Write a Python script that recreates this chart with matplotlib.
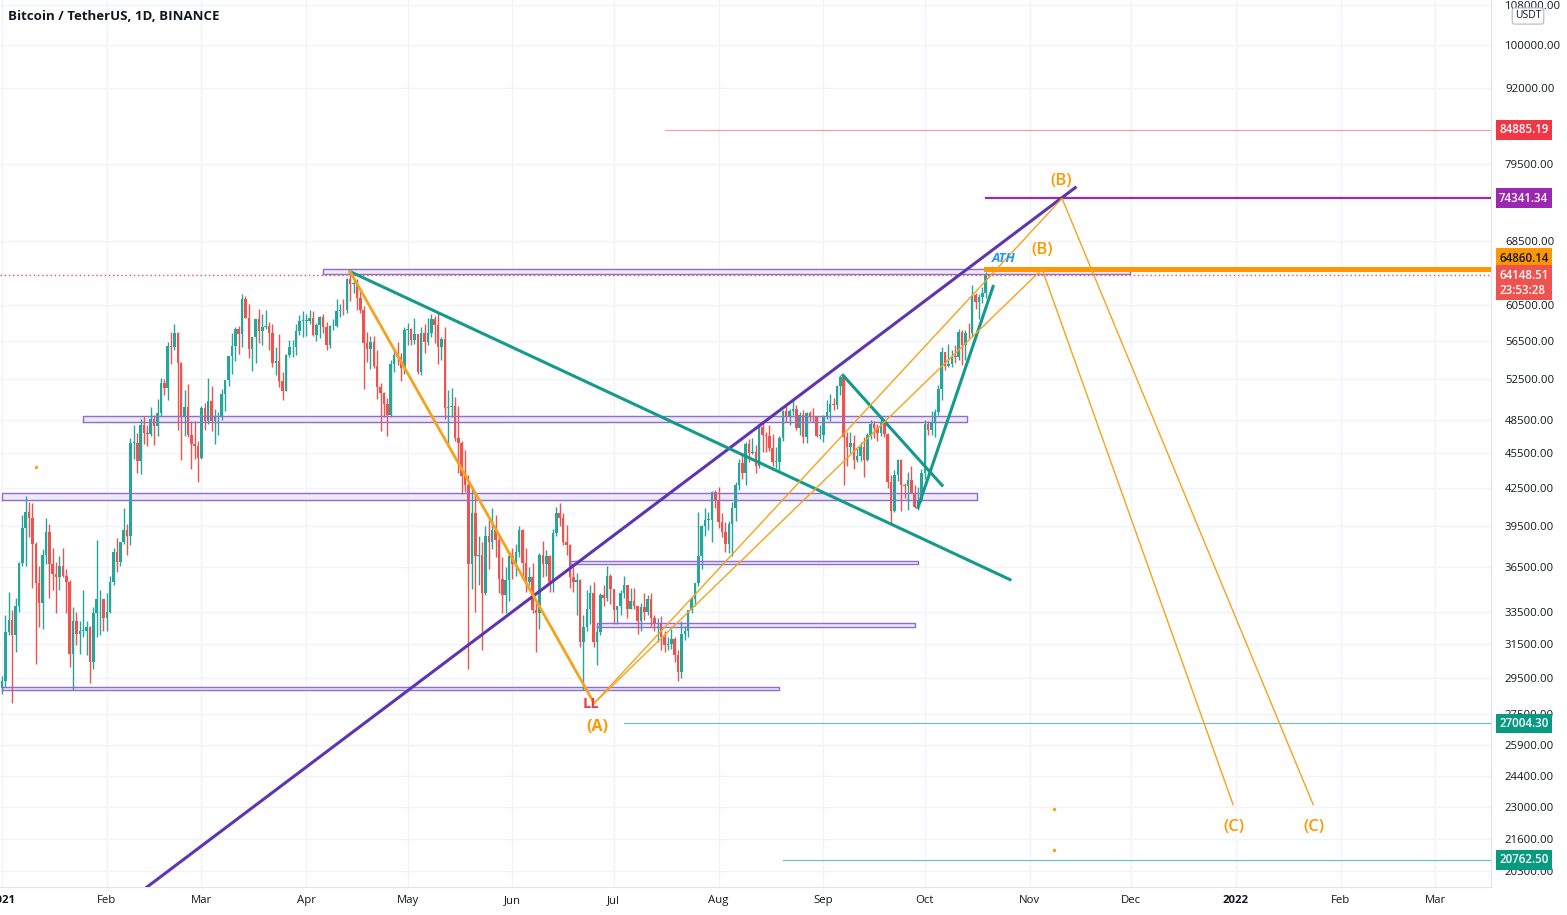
import numpy as np
import matplotlib
matplotlib.use("Agg")
import matplotlib.pyplot as plt
from matplotlib.transforms import blended_transform_factory
from matplotlib.ticker import NullLocator
from datetime import date

plt.rcParams['font.family'] = ['Open Sans', 'DejaVu Sans']

# ---- daily BTC/USDT candles 2021-01-01 .. 2021-10-20, in thousands ----
first_open = 28.9
jan_c = [29.3,32.2,33.0,32.0,33.9,36.8,39.4,40.6,40.1,38.2,35.4,34.1,37.4,39.1,36.7,36.0,35.8,36.6,35.9,35.5,
         30.9,32.9,32.1,32.3,32.3,32.5,30.4,33.4,34.3,34.3,33.1]
jan_h = [29.6,33.3,34.8,33.6,34.4,36.9,40.4,41.9,41.4,41.3,38.3,36.6,37.8,40.1,39.7,37.9,36.9,37.3,37.9,36.4,
         35.6,33.8,33.5,32.9,34.9,32.9,32.6,33.8,38.5,34.9,34.3]
jan_l = [28.6,29.0,32.0,28.1,31.0,33.5,36.6,36.6,38.7,35.1,30.3,32.5,32.4,36.7,34.4,34.9,33.4,34.9,35.8,33.4,
         30.1,28.8,31.4,30.9,31.9,30.8,29.2,30.0,31.9,32.0,32.3]
feb_c = [33.5,35.5,37.6,36.9,38.3,39.2,38.8,46.4,46.4,44.8,48.0,47.3,47.2,48.6,47.9,49.1,52.1,51.6,55.9,55.8,
         57.4,54.1,48.9,49.7,47.1,46.3,46.1,45.1]
feb_h = [34.7,35.9,37.9,38.6,38.3,40.9,39.7,46.8,48.0,47.3,48.6,48.9,48.0,49.7,49.0,50.5,52.6,52.5,56.4,57.5,
         58.4,57.5,54.2,51.4,52.0,48.4,48.4,46.6]
feb_l = [32.3,33.4,35.3,36.2,36.6,38.2,37.4,38.1,45.0,43.8,43.7,46.3,46.1,47.0,46.2,47.0,48.9,50.9,50.4,54.0,
         55.5,47.6,44.9,47.0,46.9,44.1,45.0,43.0]
mar_c = [49.6,48.4,50.3,48.4,48.8,48.9,51.0,52.4,54.9,55.9,57.8,57.2,61.2,59.0,55.6,56.9,58.9,57.6,58.0,58.1,
         57.4,54.1,54.3,52.3,51.3,55.0,55.8,55.8,57.6,58.7,58.7]
mar_h = [49.8,50.1,52.6,51.8,49.5,49.2,51.5,52.4,54.9,57.4,58.0,58.1,61.8,61.6,60.6,56.9,58.9,60.1,59.5,59.9,
         58.6,58.4,55.8,57.2,53.2,55.1,56.6,56.6,58.4,59.4,59.8]
mar_l = [45.0,47.6,48.1,47.5,46.3,47.1,48.5,49.3,51.8,53.0,54.3,55.1,55.8,59.0,54.6,53.3,54.1,56.3,56.0,57.8,
         55.5,53.7,52.9,51.7,50.4,51.3,54.7,54.7,55.0,57.1,56.9]
apr_c = [58.7,59.0,57.1,58.2,59.1,58.0,56.0,58.1,58.1,59.8,60.0,59.9,63.6,63.0,63.2,61.3,60.0,56.2,55.6,56.4,
         53.8,51.7,51.1,50.0,49.0,54.0,55.0,54.8,53.6,57.7]
apr_h = [59.5,60.0,59.8,58.5,59.3,59.5,58.6,58.2,58.9,61.2,60.6,61.2,63.8,64.9,63.8,63.6,62.5,60.4,57.5,57.0,
         57.0,55.5,52.1,51.2,50.6,54.4,55.5,56.4,55.2,58.0]
apr_l = [57.0,58.4,57.0,56.5,56.8,57.4,55.5,55.7,57.7,58.0,59.2,59.4,59.6,61.0,62.0,60.0,59.6,51.5,54.2,53.5,
         53.6,50.5,47.5,48.8,47.0,48.8,53.2,53.9,52.3,53.0]
may_c = [57.8,56.6,57.2,53.2,57.4,56.4,57.3,58.9,58.2,55.8,56.7,49.6,49.7,49.8,46.8,46.4,43.5,42.8,36.7,40.5,
         37.3,37.4,34.7,38.8,38.3,39.2,38.5,35.7,34.6,35.6,37.3]
may_h = [58.5,57.9,59.0,57.2,58.0,58.4,59.0,59.5,59.3,59.6,56.9,58.0,51.4,51.6,50.7,49.8,46.6,45.8,43.6,42.5,
         42.2,38.8,38.3,39.5,40.0,40.9,40.4,38.9,37.2,36.5,37.5]
may_l = [56.0,56.0,56.1,53.0,52.9,55.2,56.0,56.9,56.2,54.0,54.4,48.6,46.0,48.8,46.6,43.8,42.0,42.2,30.0,35.0,
         33.5,35.3,31.1,34.6,36.4,37.8,37.2,34.7,33.4,33.4,34.2]
jun_c = [36.7,37.6,39.2,36.8,35.5,35.8,33.6,33.4,37.4,36.7,37.3,35.5,39.0,40.5,40.1,38.3,38.1,35.8,35.5,35.6,
         31.6,32.5,33.7,34.7,31.6,32.2,34.6,34.4,35.9,35.0]
jun_h = [37.9,38.2,39.5,39.3,37.9,36.5,36.8,34.1,37.5,38.4,37.7,37.4,39.3,41.0,41.3,40.5,39.6,38.2,36.5,36.1,
         35.7,33.3,34.9,35.3,35.5,32.7,34.7,35.3,36.6,36.0]
jun_l = [35.7,35.9,37.2,35.6,34.8,35.3,33.4,31.0,32.4,35.8,35.9,34.8,34.8,38.8,39.5,38.1,37.4,35.1,34.8,33.3,
         31.3,28.8,32.3,32.7,31.3,30.2,32.0,33.9,34.2,34.0]
jul_c = [33.6,33.9,34.7,35.3,33.7,34.2,33.9,32.9,33.8,33.5,34.3,33.1,32.7,32.8,31.9,31.4,31.5,31.8,30.8,29.8,
         32.1,32.3,33.6,34.3,35.4,37.3,39.5,40.0,40.0,42.2,41.5]
jul_h = [35.0,33.9,34.9,35.9,35.3,35.1,35.1,33.9,34.1,34.7,34.6,34.7,33.3,33.1,33.2,32.3,31.9,32.4,31.9,31.1,
         32.9,32.6,33.6,34.5,35.4,40.6,39.6,40.9,40.6,42.3,42.4]
jul_l = [32.7,32.7,33.3,34.4,33.1,33.7,33.7,32.1,32.3,33.0,33.3,32.6,32.3,31.6,31.1,31.0,31.1,31.2,30.4,29.3,
         29.5,31.7,31.9,33.4,33.9,35.2,36.4,38.8,39.2,38.3,40.9]
aug_c = [39.8,39.1,38.2,39.7,40.9,42.8,44.6,43.8,46.3,45.5,45.6,44.4,47.8,47.1,47.0,45.9,44.7,44.7,46.8,49.3,
         48.9,49.3,49.5,47.7,49.0,46.9,49.1,48.9,48.8,47.0,47.1]
aug_h = [42.6,40.5,39.8,39.9,41.4,43.0,45.0,45.3,46.5,46.7,46.8,46.2,48.1,48.2,47.4,48.0,47.2,46.0,47.0,49.4,
         49.8,49.5,50.5,49.9,49.2,49.4,49.2,49.3,49.6,48.9,48.0]
aug_l = [39.4,38.7,37.6,37.5,37.3,39.9,42.4,43.3,42.8,44.7,45.4,43.8,44.2,45.6,45.6,45.7,44.4,44.2,43.9,46.6,
         48.3,48.0,49.0,47.6,47.1,46.4,46.4,48.4,48.3,46.9,46.7]
sep_c = [48.8,49.2,50.0,49.9,51.8,52.7,46.9,46.0,46.4,44.9,45.2,46.0,44.9,47.1,48.1,47.7,47.3,48.3,47.2,43.0,
         40.7,43.6,44.9,42.8,42.7,43.2,42.1,41.0,41.5,43.8]
sep_h = [49.0,50.4,51.0,50.6,51.9,52.9,52.9,47.4,47.4,47.1,46.0,46.5,46.9,47.3,48.5,48.4,48.1,48.8,48.4,47.3,
         43.6,44.0,45.0,45.0,42.9,43.9,44.4,42.8,42.6,44.1]
sep_l = [46.5,48.6,48.4,49.4,49.5,50.9,42.8,44.4,45.5,44.1,44.7,44.8,43.4,44.8,46.7,46.8,46.6,47.0,46.9,42.5,
         39.6,40.6,43.1,40.7,41.7,40.8,42.1,40.9,40.8,41.4]
oct_c = [48.1,47.6,48.2,49.2,51.5,55.3,53.8,54.0,54.9,54.7,57.5,56.0,57.4,57.3,61.7,60.9,61.5,62.0,64.3,64.15]
oct_h = [48.5,48.4,49.3,49.5,51.9,55.8,55.3,56.1,55.5,56.0,57.8,57.7,57.7,58.5,62.9,62.0,61.8,62.7,64.5,64.3]
oct_l = [43.3,47.1,47.1,46.9,49.0,50.4,53.4,53.7,53.7,54.1,54.4,53.9,54.4,56.8,56.9,60.1,58.9,60.8,61.3,63.9]

# ---- drawn levels (price) and their start day ----
current_price = 64148.51
timer_text = "23:53:28"
level_red, level_red_start = 84885.19, 196
level_purple, level_purple_start = 74341.34, 291
level_ath, level_ath_start = 64860.14, 291
level_t1, level_t1_start = 27004.30, 184
level_t2, level_t2_start = 20762.50, 231

# zones: (day_start, day_end, price_low, price_high)
zones = [(95, 333.7, 64300, 64850), (24, 285.5, 48280, 48850), (0, 288.5, 41530, 42080),
         (168, 271, 36700, 36910), (176, 270, 32550, 32800), (0, 230, 28780, 29000)]

# trend lines: ((day, price), (day, price))
purple_trend = ((42.9, 19700), (317.5, 75900))
teal_lines = [((103, 64550), (298.2, 35640)), ((248.8, 52850), (278.1, 42750)),
              ((271.0, 40970), (293.2, 62730))]
wave_a_line = ((103, 64550), (175.1, 28100))
wave_a = (175.3, 28100)
wave_b1 = (313.6, 74341.34)
wave_b2 = (307.7, 64860.14)
wave_c1 = (387.9, 23090)
wave_c2 = (364.2, 23090)

yticks = [108000, 100000, 92000, 79500, 68500, 60500, 56500, 52500, 48500, 45500, 42500,
          39500, 36500, 33500, 31500, 29500, 27500, 25900, 24400, 23000, 21600, 20300]
month_labels = ["2021", "Feb", "Mar", "Apr", "May", "Jun", "Jul", "Aug", "Sep", "Oct",
                "Nov", "Dec", "2022", "Feb", "Mar"]
month_dates = [date(2021, m, 1) for m in range(1, 13)] + [date(2022, m, 1) for m in (1, 2, 3)]

UP, DOWN = '#26a69a', '#ef5350'
ORANGE = '#ff9800'
TEAL = '#139a8a'

closes = np.array(jan_c + feb_c + mar_c + apr_c + may_c + jun_c + jul_c + aug_c + sep_c + oct_c) * 1000
highs = np.array(jan_h + feb_h + mar_h + apr_h + may_h + jun_h + jul_h + aug_h + sep_h + oct_h) * 1000
lows = np.array(jan_l + feb_l + mar_l + apr_l + may_l + jun_l + jul_l + aug_l + sep_l + oct_l) * 1000
opens = np.r_[first_open * 1000, closes[:-1]]
days = np.arange(len(closes))
highs = np.maximum(highs, np.maximum(opens, closes))
lows = np.minimum(lows, np.minimum(opens, closes))

fig = plt.figure(figsize=(15.67, 9.15), dpi=100)
ax = fig.add_axes([0, 28 / 915, 1491 / 1567, 887 / 915])
ax.set_yscale('log')
ax.set_xlim(-0.6, 440.5)
ax.set_ylim(19700, 109000)

# grid
for d in month_dates:
    ax.axvline((d - date(2021, 1, 1)).days, color='#f0f3fa', lw=1, zorder=0)
for t in yticks:
    ax.axhline(t, color='#f0f3fa', lw=1, zorder=0)

# candles
up = closes >= opens
cols = np.where(up, UP, DOWN)
ax.vlines(days, lows, highs, colors=cols, lw=1.0, zorder=3)
lo_b = np.minimum(opens, closes)
hi_b = np.maximum(opens, closes)
ax.bar(days, np.maximum(hi_b - lo_b, 60), bottom=lo_b, width=0.75, color=cols, lw=0, zorder=4)

# zones
for d0, d1, p0, p1 in zones:
    ax.fill_between([d0, d1], p0, p1, color='#ede7f6', alpha=0.9, zorder=2)
    ax.plot([d0, d1, d1, d0, d0], [p0, p0, p1, p1, p0], color='#8e6fd0', lw=1.0, zorder=5)

# horizontal levels
ax.axhline(current_price, color=DOWN, lw=1, ls=(0, (1, 2)), zorder=5)
ax.plot([level_red_start, 441], [level_red] * 2, color='#f7525f', lw=0.8, alpha=0.6, zorder=5)
ax.plot([level_purple_start, 441], [level_purple] * 2, color='#9c27b0', lw=1.6, zorder=6)
ax.plot([level_ath_start, 441], [level_ath] * 2, color=ORANGE, lw=3.6, zorder=6)
ax.plot([level_t1_start, 441], [level_t1] * 2, color='#26a69a', lw=0.8, alpha=0.7, zorder=5)
ax.plot([level_t2_start, 441], [level_t2] * 2, color='#26a69a', lw=0.8, alpha=0.7, zorder=5)

# trend lines
(x0, y0), (x1, y1) = purple_trend
ax.plot([x0, x1], [y0, y1], color='#5e35b1', lw=2.2, zorder=6)
for (a, b), (c, e) in teal_lines:
    ax.plot([a, c], [b, e], color=TEAL, lw=2.2, zorder=6)
(x0, y0), (x1, y1) = wave_a_line
ax.plot([x0, x1], [y0, y1], color='#f7a21b', lw=2.0, zorder=6)
for b, c in ((wave_b1, wave_c1), (wave_b2, wave_c2)):
    ax.plot([wave_a[0], b[0], c[0]], [wave_a[1], b[1], c[1]], color='#f7a21b', lw=1.0, zorder=6)

# labels on chart
ax.text(313.3, 76900, "(B)", color=ORANGE, fontsize=12, fontweight='semibold', ha='center', va='center', zorder=8)
ax.text(307.7, 67320, "(B)", color=ORANGE, fontsize=12, fontweight='semibold', ha='center', va='center', zorder=8)
ax.text(296.4, 66200, "ATH", color='#2196f3', fontsize=9.5, fontweight='bold', fontstyle='italic',
        ha='center', va='center', zorder=8)
ax.text(174.3, 28040, "LL", color='#f23645', fontsize=10.5, fontweight='bold', ha='center', va='center', zorder=8)
ax.text(176.0, 26840, "(A)", color=ORANGE, fontsize=11.5, fontweight='bold', ha='center', va='center', zorder=8)
ax.text(364.5, 22100, "(C)", color=ORANGE, fontsize=12, fontweight='semibold', ha='center', va='center', zorder=8)
ax.text(388.2, 22100, "(C)", color=ORANGE, fontsize=12, fontweight='semibold', ha='center', va='center', zorder=8)
ax.plot([10, 311.2, 311.2], [44250, 22880, 21140], ls='none', marker='o', ms=1.5, color='#f7a21b', zorder=8)

# axes styling
for s in ('top', 'left'):
    ax.spines[s].set_visible(False)
for s in ('right', 'bottom'):
    ax.spines[s].set_color('#e0e3eb')
ax.yaxis.tick_right()
ax.yaxis.set_minor_locator(NullLocator())
ax.set_yticks(yticks)
ax.set_yticklabels([f"{t:.2f}" for t in yticks])
ax.tick_params(axis='y', length=0, pad=10, labelsize=8.2, labelcolor='#131722')
ax.set_xticks([(d - date(2021, 1, 1)).days for d in month_dates])
ax.set_xticklabels(month_labels)
ax.tick_params(axis='x', length=0, pad=6, labelsize=8.2, labelcolor='#131722')
for lbl in ax.get_xticklabels():
    if lbl.get_text() in ("2021", "2022"):
        lbl.set_fontweight('bold')

# price scale labels
tr = blended_transform_factory(ax.transAxes, ax.transData)
def price_tag(price, text, fc, tc='white', dy=0):
    ax.annotate(text, xy=(1.0, price), xycoords=tr, xytext=(8, dy), textcoords='offset pixels',
                ha='left', va='center', fontsize=8.3, fontweight='semibold', color=tc,
                annotation_clip=False, zorder=20,
                bbox=dict(boxstyle='square,pad=0.3', fc=fc, ec='none'))

price_tag(level_red, f"{level_red:.2f}", '#f23645')
price_tag(level_purple, f"{level_purple:.2f}", '#9c27b0')
price_tag(level_ath, f"{level_ath:.2f}", ORANGE, tc='#131722', dy=11)
price_tag(current_price, f"{current_price:.2f}\n{timer_text}", '#ef5350', dy=-8)
price_tag(level_t1, f"{level_t1:.2f}", '#089981')
price_tag(level_t2, f"{level_t2:.2f}", '#089981')

fig.text(8 / 1567, 1 - 16 / 915, "Bitcoin / TetherUS, 1D, BINANCE", fontsize=9.5, fontweight='bold',
         color='#131722', va='center')
fig.text(1528 / 1567, 1 - 16 / 915, "USDT", fontsize=7.5, color='#131722', ha='center', va='center',
         bbox=dict(boxstyle='round,pad=0.25', fc='white', ec='#b2b5be', lw=0.8))

fig.savefig("out.png", dpi=100, facecolor='white')
